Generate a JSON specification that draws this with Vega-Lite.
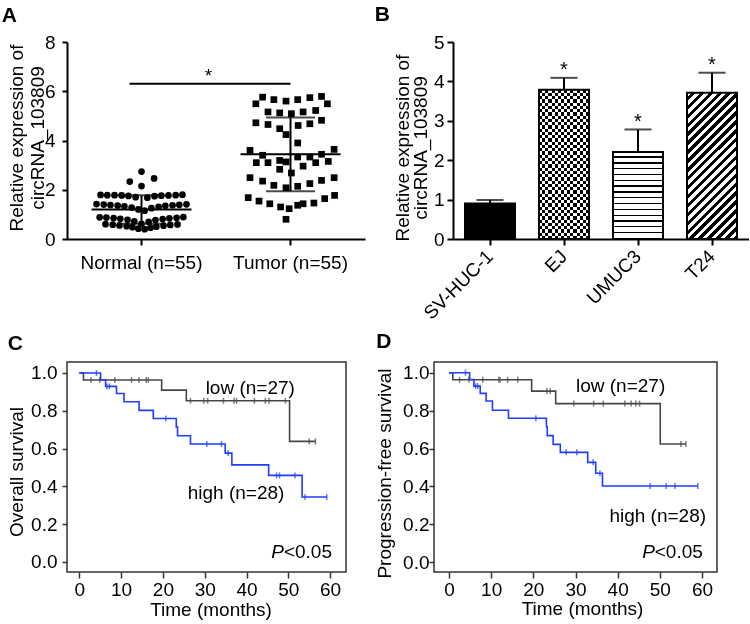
{
  "$schema": "https://vega.github.io/schema/vega-lite/v6.json",
  "background": "white",
  "padding": {"left": 1, "top": 4, "right": 0, "bottom": 0},
  "config": {
    "font": "Liberation Sans",
    "view": {"stroke": null},
    "axis": {"labelFont": "Liberation Sans", "titleFont": "Liberation Sans", "labelFontSize": 19, "titleFontSize": 19, "labelColor": "black", "titleColor": "black", "titleFontWeight": "normal", "domainColor": "black", "tickColor": "black", "domainWidth": 2, "tickWidth": 2, "grid": false},
    "title": {"font": "Liberation Sans", "fontSize": 21, "fontWeight": "bold", "anchor": "start", "frame": "bounds", "baseline": "alphabetic", "color": "black"},
    "text": {"font": "Liberation Sans", "fontSize": 19, "color": "black"}
  },
  "datasets": {
    "pts": [
      {"grp": "Normal (n=55)", "value": 2.74, "jitter": 0},
      {"grp": "Normal (n=55)", "value": 2.33, "jitter": -0.26},
      {"grp": "Normal (n=55)", "value": 2.46, "jitter": 0.28},
      {"grp": "Normal (n=55)", "value": 2.15, "jitter": 0},
      {"grp": "Normal (n=55)", "value": 1.79, "jitter": -0.91},
      {"grp": "Normal (n=55)", "value": 1.78, "jitter": -0.76},
      {"grp": "Normal (n=55)", "value": 1.78, "jitter": -0.6},
      {"grp": "Normal (n=55)", "value": 1.77, "jitter": -0.44},
      {"grp": "Normal (n=55)", "value": 1.75, "jitter": -0.29},
      {"grp": "Normal (n=55)", "value": 1.70, "jitter": -0.13},
      {"grp": "Normal (n=55)", "value": 1.68, "jitter": 0.13},
      {"grp": "Normal (n=55)", "value": 1.74, "jitter": 0.29},
      {"grp": "Normal (n=55)", "value": 1.76, "jitter": 0.44},
      {"grp": "Normal (n=55)", "value": 1.77, "jitter": 0.6},
      {"grp": "Normal (n=55)", "value": 1.78, "jitter": 0.76},
      {"grp": "Normal (n=55)", "value": 1.80, "jitter": 0.91},
      {"grp": "Normal (n=55)", "value": 1.42, "jitter": -1},
      {"grp": "Normal (n=55)", "value": 1.40, "jitter": -0.84},
      {"grp": "Normal (n=55)", "value": 1.38, "jitter": -0.69},
      {"grp": "Normal (n=55)", "value": 1.36, "jitter": -0.53},
      {"grp": "Normal (n=55)", "value": 1.33, "jitter": -0.38},
      {"grp": "Normal (n=55)", "value": 1.28, "jitter": -0.22},
      {"grp": "Normal (n=55)", "value": 1.20, "jitter": -0.07},
      {"grp": "Normal (n=55)", "value": 1.15, "jitter": 0.07},
      {"grp": "Normal (n=55)", "value": 1.25, "jitter": 0.22},
      {"grp": "Normal (n=55)", "value": 1.31, "jitter": 0.38},
      {"grp": "Normal (n=55)", "value": 1.35, "jitter": 0.53},
      {"grp": "Normal (n=55)", "value": 1.37, "jitter": 0.69},
      {"grp": "Normal (n=55)", "value": 1.39, "jitter": 0.84},
      {"grp": "Normal (n=55)", "value": 1.41, "jitter": 1},
      {"grp": "Normal (n=55)", "value": 0.88, "jitter": -0.93},
      {"grp": "Normal (n=55)", "value": 0.87, "jitter": -0.78},
      {"grp": "Normal (n=55)", "value": 0.85, "jitter": -0.62},
      {"grp": "Normal (n=55)", "value": 0.82, "jitter": -0.47},
      {"grp": "Normal (n=55)", "value": 0.78, "jitter": -0.31},
      {"grp": "Normal (n=55)", "value": 0.72, "jitter": -0.16},
      {"grp": "Normal (n=55)", "value": 0.62, "jitter": 0},
      {"grp": "Normal (n=55)", "value": 0.70, "jitter": 0.16},
      {"grp": "Normal (n=55)", "value": 0.77, "jitter": 0.31},
      {"grp": "Normal (n=55)", "value": 0.81, "jitter": 0.47},
      {"grp": "Normal (n=55)", "value": 0.84, "jitter": 0.62},
      {"grp": "Normal (n=55)", "value": 0.86, "jitter": 0.78},
      {"grp": "Normal (n=55)", "value": 0.89, "jitter": 0.93},
      {"grp": "Normal (n=55)", "value": 0.60, "jitter": -0.8},
      {"grp": "Normal (n=55)", "value": 0.58, "jitter": -0.64},
      {"grp": "Normal (n=55)", "value": 0.55, "jitter": -0.49},
      {"grp": "Normal (n=55)", "value": 0.52, "jitter": -0.33},
      {"grp": "Normal (n=55)", "value": 0.48, "jitter": -0.2},
      {"grp": "Normal (n=55)", "value": 0.42, "jitter": -0.07},
      {"grp": "Normal (n=55)", "value": 0.40, "jitter": 0.07},
      {"grp": "Normal (n=55)", "value": 0.46, "jitter": 0.2},
      {"grp": "Normal (n=55)", "value": 0.50, "jitter": 0.33},
      {"grp": "Normal (n=55)", "value": 0.54, "jitter": 0.49},
      {"grp": "Normal (n=55)", "value": 0.57, "jitter": 0.64},
      {"grp": "Normal (n=55)", "value": 0.59, "jitter": 0.8},
      {"grp": "Tumor (n=55)", "value": 5.49, "jitter": -0.77},
      {"grp": "Tumor (n=55)", "value": 5.76, "jitter": -0.62},
      {"grp": "Tumor (n=55)", "value": 5.66, "jitter": -0.37},
      {"grp": "Tumor (n=55)", "value": 5.60, "jitter": -0.10},
      {"grp": "Tumor (n=55)", "value": 5.66, "jitter": 0.16},
      {"grp": "Tumor (n=55)", "value": 5.74, "jitter": 0.43},
      {"grp": "Tumor (n=55)", "value": 5.79, "jitter": 0.69},
      {"grp": "Tumor (n=55)", "value": 5.49, "jitter": 0.82},
      {"grp": "Tumor (n=55)", "value": 5.16, "jitter": -0.50},
      {"grp": "Tumor (n=55)", "value": 5.12, "jitter": -0.24},
      {"grp": "Tumor (n=55)", "value": 5.09, "jitter": 0.02},
      {"grp": "Tumor (n=55)", "value": 5.16, "jitter": 0.28},
      {"grp": "Tumor (n=55)", "value": 5.22, "jitter": 0.56},
      {"grp": "Tumor (n=55)", "value": 4.72, "jitter": -0.77},
      {"grp": "Tumor (n=55)", "value": 4.65, "jitter": -0.50},
      {"grp": "Tumor (n=55)", "value": 4.48, "jitter": -0.24},
      {"grp": "Tumor (n=55)", "value": 4.61, "jitter": 0.17},
      {"grp": "Tumor (n=55)", "value": 4.68, "jitter": 0.43},
      {"grp": "Tumor (n=55)", "value": 4.82, "jitter": 0.69},
      {"grp": "Tumor (n=55)", "value": 4.24, "jitter": -0.10},
      {"grp": "Tumor (n=55)", "value": 3.90, "jitter": 0.16},
      {"grp": "Tumor (n=55)", "value": 3.60, "jitter": -0.90},
      {"grp": "Tumor (n=55)", "value": 3.40, "jitter": -0.62},
      {"grp": "Tumor (n=55)", "value": 3.10, "jitter": -0.76},
      {"grp": "Tumor (n=55)", "value": 3.10, "jitter": -0.50},
      {"grp": "Tumor (n=55)", "value": 3.19, "jitter": -0.24},
      {"grp": "Tumor (n=55)", "value": 3.13, "jitter": -0.10},
      {"grp": "Tumor (n=55)", "value": 3.33, "jitter": 0.16},
      {"grp": "Tumor (n=55)", "value": 3.33, "jitter": 0.43},
      {"grp": "Tumor (n=55)", "value": 3.44, "jitter": 0.69},
      {"grp": "Tumor (n=55)", "value": 3.64, "jitter": 0.97},
      {"grp": "Tumor (n=55)", "value": 3.15, "jitter": 0.84},
      {"grp": "Tumor (n=55)", "value": 3.10, "jitter": 0.56},
      {"grp": "Tumor (n=55)", "value": 2.96, "jitter": 0.28},
      {"grp": "Tumor (n=55)", "value": 2.68, "jitter": 0.02},
      {"grp": "Tumor (n=55)", "value": 2.83, "jitter": -0.24},
      {"grp": "Tumor (n=55)", "value": 2.49, "jitter": -0.90},
      {"grp": "Tumor (n=55)", "value": 2.35, "jitter": -0.62},
      {"grp": "Tumor (n=55)", "value": 2.18, "jitter": -0.37},
      {"grp": "Tumor (n=55)", "value": 2.08, "jitter": -0.10},
      {"grp": "Tumor (n=55)", "value": 2.14, "jitter": 0.16},
      {"grp": "Tumor (n=55)", "value": 2.25, "jitter": 0.43},
      {"grp": "Tumor (n=55)", "value": 2.38, "jitter": 0.69},
      {"grp": "Tumor (n=55)", "value": 2.49, "jitter": 0.97},
      {"grp": "Tumor (n=55)", "value": 1.68, "jitter": -0.94},
      {"grp": "Tumor (n=55)", "value": 1.54, "jitter": -0.70},
      {"grp": "Tumor (n=55)", "value": 1.43, "jitter": -0.46},
      {"grp": "Tumor (n=55)", "value": 1.30, "jitter": -0.22},
      {"grp": "Tumor (n=55)", "value": 1.23, "jitter": -0.03},
      {"grp": "Tumor (n=55)", "value": 1.37, "jitter": 0.16},
      {"grp": "Tumor (n=55)", "value": 1.43, "jitter": 0.28},
      {"grp": "Tumor (n=55)", "value": 1.46, "jitter": 0.52},
      {"grp": "Tumor (n=55)", "value": 1.64, "jitter": 0.76},
      {"grp": "Tumor (n=55)", "value": 1.77, "jitter": 0.98},
      {"grp": "Tumor (n=55)", "value": 0.80, "jitter": -0.10}
    ],
    "sigA": [{"from": "Normal (n=55)", "to": "Tumor (n=55)", "y": 6.3, "label": "*"}],
    "bars": [
      {"cell": "SV-HUC-1", "value": 0.90, "upper": 0.99, "sig": ""},
      {"cell": "EJ", "value": 3.79, "upper": 4.09, "sig": "*"},
      {"cell": "UMUC3", "value": 2.21, "upper": 2.78, "sig": "*"},
      {"cell": "T24", "value": 3.71, "upper": 4.22, "sig": "*"}
    ],
    "km": [
      {"panel": "C", "grp": "low", "t": 0, "s": 1, "cens": 0},
      {"panel": "C", "grp": "low", "t": 1.0, "s": 0.963, "cens": 0},
      {"panel": "C", "grp": "low", "t": 2.8, "s": 0.963, "cens": 1},
      {"panel": "C", "grp": "low", "t": 4.9, "s": 0.963, "cens": 1},
      {"panel": "C", "grp": "low", "t": 8.5, "s": 0.963, "cens": 1},
      {"panel": "C", "grp": "low", "t": 12.5, "s": 0.963, "cens": 1},
      {"panel": "C", "grp": "low", "t": 14.3, "s": 0.963, "cens": 1},
      {"panel": "C", "grp": "low", "t": 16.0, "s": 0.963, "cens": 1},
      {"panel": "C", "grp": "low", "t": 16.5, "s": 0.963, "cens": 1},
      {"panel": "C", "grp": "low", "t": 19.7, "s": 0.909, "cens": 0},
      {"panel": "C", "grp": "low", "t": 25.6, "s": 0.853, "cens": 0},
      {"panel": "C", "grp": "low", "t": 26.6, "s": 0.853, "cens": 1},
      {"panel": "C", "grp": "low", "t": 29.8, "s": 0.853, "cens": 1},
      {"panel": "C", "grp": "low", "t": 30.7, "s": 0.853, "cens": 1},
      {"panel": "C", "grp": "low", "t": 34.5, "s": 0.853, "cens": 1},
      {"panel": "C", "grp": "low", "t": 37.0, "s": 0.853, "cens": 1},
      {"panel": "C", "grp": "low", "t": 37.6, "s": 0.853, "cens": 1},
      {"panel": "C", "grp": "low", "t": 41.9, "s": 0.853, "cens": 1},
      {"panel": "C", "grp": "low", "t": 44.5, "s": 0.853, "cens": 1},
      {"panel": "C", "grp": "low", "t": 45.4, "s": 0.853, "cens": 1},
      {"panel": "C", "grp": "low", "t": 49.3, "s": 0.853, "cens": 1},
      {"panel": "C", "grp": "low", "t": 50.3, "s": 0.638, "cens": 0},
      {"panel": "C", "grp": "low", "t": 55.0, "s": 0.638, "cens": 1},
      {"panel": "C", "grp": "low", "t": 56.5, "s": 0.638, "cens": 1},
      {"panel": "C", "grp": "high", "t": 0, "s": 1, "cens": 0},
      {"panel": "C", "grp": "high", "t": 4.1, "s": 1, "cens": 1},
      {"panel": "C", "grp": "high", "t": 5.1, "s": 0.964, "cens": 0},
      {"panel": "C", "grp": "high", "t": 6.3, "s": 0.929, "cens": 0},
      {"panel": "C", "grp": "high", "t": 6.6, "s": 0.929, "cens": 1},
      {"panel": "C", "grp": "high", "t": 7.2, "s": 0.929, "cens": 1},
      {"panel": "C", "grp": "high", "t": 8.9, "s": 0.891, "cens": 0},
      {"panel": "C", "grp": "high", "t": 10.7, "s": 0.848, "cens": 0},
      {"panel": "C", "grp": "high", "t": 14.3, "s": 0.802, "cens": 0},
      {"panel": "C", "grp": "high", "t": 17.7, "s": 0.759, "cens": 0},
      {"panel": "C", "grp": "high", "t": 20.7, "s": 0.759, "cens": 1},
      {"panel": "C", "grp": "high", "t": 23.2, "s": 0.715, "cens": 0},
      {"panel": "C", "grp": "high", "t": 23.5, "s": 0.668, "cens": 0},
      {"panel": "C", "grp": "high", "t": 26.6, "s": 0.624, "cens": 0},
      {"panel": "C", "grp": "high", "t": 30.5, "s": 0.624, "cens": 1},
      {"panel": "C", "grp": "high", "t": 34.0, "s": 0.624, "cens": 1},
      {"panel": "C", "grp": "high", "t": 34.9, "s": 0.576, "cens": 0},
      {"panel": "C", "grp": "high", "t": 35.6, "s": 0.576, "cens": 1},
      {"panel": "C", "grp": "high", "t": 36.5, "s": 0.514, "cens": 0},
      {"panel": "C", "grp": "high", "t": 45.3, "s": 0.458, "cens": 0},
      {"panel": "C", "grp": "high", "t": 47.2, "s": 0.458, "cens": 1},
      {"panel": "C", "grp": "high", "t": 47.9, "s": 0.458, "cens": 1},
      {"panel": "C", "grp": "high", "t": 51.6, "s": 0.458, "cens": 1},
      {"panel": "C", "grp": "high", "t": 53.3, "s": 0.344, "cens": 0},
      {"panel": "C", "grp": "high", "t": 54.0, "s": 0.344, "cens": 1},
      {"panel": "C", "grp": "high", "t": 59.2, "s": 0.344, "cens": 1},
      {"panel": "D", "grp": "low", "t": 0, "s": 1, "cens": 0},
      {"panel": "D", "grp": "low", "t": 0.9, "s": 0.963, "cens": 0},
      {"panel": "D", "grp": "low", "t": 2.5, "s": 0.963, "cens": 1},
      {"panel": "D", "grp": "low", "t": 4.7, "s": 0.963, "cens": 1},
      {"panel": "D", "grp": "low", "t": 8.0, "s": 0.963, "cens": 1},
      {"panel": "D", "grp": "low", "t": 11.8, "s": 0.963, "cens": 1},
      {"panel": "D", "grp": "low", "t": 12.1, "s": 0.963, "cens": 1},
      {"panel": "D", "grp": "low", "t": 13.9, "s": 0.963, "cens": 1},
      {"panel": "D", "grp": "low", "t": 16.3, "s": 0.963, "cens": 1},
      {"panel": "D", "grp": "low", "t": 19.6, "s": 0.903, "cens": 0},
      {"panel": "D", "grp": "low", "t": 23.2, "s": 0.903, "cens": 1},
      {"panel": "D", "grp": "low", "t": 24.0, "s": 0.903, "cens": 1},
      {"panel": "D", "grp": "low", "t": 25.3, "s": 0.837, "cens": 0},
      {"panel": "D", "grp": "low", "t": 29.6, "s": 0.837, "cens": 1},
      {"panel": "D", "grp": "low", "t": 34.3, "s": 0.837, "cens": 1},
      {"panel": "D", "grp": "low", "t": 36.6, "s": 0.837, "cens": 1},
      {"panel": "D", "grp": "low", "t": 41.7, "s": 0.837, "cens": 1},
      {"panel": "D", "grp": "low", "t": 43.2, "s": 0.837, "cens": 1},
      {"panel": "D", "grp": "low", "t": 44.3, "s": 0.837, "cens": 1},
      {"panel": "D", "grp": "low", "t": 45.2, "s": 0.837, "cens": 1},
      {"panel": "D", "grp": "low", "t": 50.1, "s": 0.624, "cens": 0},
      {"panel": "D", "grp": "low", "t": 55.0, "s": 0.624, "cens": 1},
      {"panel": "D", "grp": "low", "t": 56.2, "s": 0.624, "cens": 1},
      {"panel": "D", "grp": "high", "t": 0, "s": 1, "cens": 0},
      {"panel": "D", "grp": "high", "t": 3.9, "s": 1, "cens": 1},
      {"panel": "D", "grp": "high", "t": 4.9, "s": 0.964, "cens": 0},
      {"panel": "D", "grp": "high", "t": 5.9, "s": 0.929, "cens": 0},
      {"panel": "D", "grp": "high", "t": 6.3, "s": 0.929, "cens": 1},
      {"panel": "D", "grp": "high", "t": 6.8, "s": 0.929, "cens": 1},
      {"panel": "D", "grp": "high", "t": 7.4, "s": 0.891, "cens": 0},
      {"panel": "D", "grp": "high", "t": 8.8, "s": 0.851, "cens": 0},
      {"panel": "D", "grp": "high", "t": 10.3, "s": 0.802, "cens": 0},
      {"panel": "D", "grp": "high", "t": 14.1, "s": 0.760, "cens": 0},
      {"panel": "D", "grp": "high", "t": 20.6, "s": 0.760, "cens": 1},
      {"panel": "D", "grp": "high", "t": 23.1, "s": 0.715, "cens": 0},
      {"panel": "D", "grp": "high", "t": 23.3, "s": 0.668, "cens": 0},
      {"panel": "D", "grp": "high", "t": 24.7, "s": 0.622, "cens": 0},
      {"panel": "D", "grp": "high", "t": 26.4, "s": 0.580, "cens": 0},
      {"panel": "D", "grp": "high", "t": 27.8, "s": 0.580, "cens": 1},
      {"panel": "D", "grp": "high", "t": 30.3, "s": 0.580, "cens": 1},
      {"panel": "D", "grp": "high", "t": 32.9, "s": 0.527, "cens": 0},
      {"panel": "D", "grp": "high", "t": 34.2, "s": 0.527, "cens": 1},
      {"panel": "D", "grp": "high", "t": 34.8, "s": 0.470, "cens": 0},
      {"panel": "D", "grp": "high", "t": 35.8, "s": 0.470, "cens": 1},
      {"panel": "D", "grp": "high", "t": 36.4, "s": 0.402, "cens": 0},
      {"panel": "D", "grp": "high", "t": 47.7, "s": 0.402, "cens": 1},
      {"panel": "D", "grp": "high", "t": 51.5, "s": 0.402, "cens": 1},
      {"panel": "D", "grp": "high", "t": 53.6, "s": 0.402, "cens": 1},
      {"panel": "D", "grp": "high", "t": 59.0, "s": 0.402, "cens": 1}
    ],
    "notes": [
      {"panel": "C", "t": 40.9, "s": 0.891, "label": "low (n=27)"},
      {"panel": "C", "t": 37.5, "s": 0.332, "label": "high (n=28)"},
      {"panel": "D", "t": 40.7, "s": 0.898, "label": "low (n=27)"},
      {"panel": "D", "t": 49.5, "s": 0.2125, "label": "high (n=28)"}
    ],
    "pvals": [
      {"panel": "C", "t": 60.45, "s": 0.023, "p": "P", "rest": "<0.05"},
      {"panel": "D", "t": 60.2, "s": 0.025, "p": "P", "rest": "<0.05"}
    ]
  },
  "bounds": "flush",
  "spacing": 320,
  "vconcat": [
    {
      "bounds": "flush",
      "spacing": 88,
      "hconcat": [
        {
          "width": 298,
          "height": 197,
          "title": {"text": "A", "offset": 7, "dx": -6},
          "data": {"name": "pts"},
          "layer": [
            {
              "mark": {"type": "point", "filled": true, "opacity": 1, "size": 45, "color": "black"},
              "encoding": {
                "x": {"field": "grp", "type": "nominal", "scale": {"type": "band", "domain": ["Normal (n=55)", "Tumor (n=55)"], "paddingInner": 0, "paddingOuter": 0},
                  "axis": {"title": null, "labelAngle": 0, "labelAlign": "center", "labelBaseline": "alphabetic", "labelPadding": 23.5, "tickSize": 6}},
                "xOffset": {"field": "jitter", "type": "quantitative", "scale": {"domain": [-1.656, 1.656]}},
                "y": {"field": "value", "type": "quantitative", "scale": {"domain": [0, 8], "nice": false},
                  "axis": {"values": [0, 2, 4, 6, 8], "tickSize": 5, "labelPadding": 7, "title": ["Relative expression of", "circRNA_103809"], "titleX": -44.3, "titleY": 95.5, "titleAngle": -90, "titleAlign": "center", "titleBaseline": "alphabetic", "titleLineHeight": 21}},
                "shape": {"field": "grp", "type": "nominal", "scale": {"domain": ["Normal (n=55)", "Tumor (n=55)"], "range": ["circle", "square"]}, "legend": null}
              }
            },
            {
              "mark": {"type": "errorbar", "extent": "stdev", "ticks": {"size": 49}, "thickness": 2, "color": "black"},
              "encoding": {
                "x": {"field": "grp", "type": "nominal"},
                "y": {"field": "value", "type": "quantitative", "title": ["Relative expression of", "circRNA_103809"]}
              }
            },
            {
              "mark": {"type": "tick", "size": 100, "thickness": 2, "color": "black"},
              "encoding": {
                "x": {"field": "grp", "type": "nominal"},
                "y": {"field": "value", "aggregate": "mean", "type": "quantitative", "title": ["Relative expression of", "circRNA_103809"]}
              }
            },
            {
              "data": {"name": "sigA"},
              "mark": {"type": "rule", "strokeWidth": 2, "color": "black", "xOffset": -12},
              "encoding": {
                "x": {"field": "from", "type": "nominal"},
                "x2": {"field": "to"},
                "y": {"field": "y", "type": "quantitative", "title": ["Relative expression of", "circRNA_103809"]}
              }
            },
            {
              "data": {"name": "sigA"},
              "mark": {"type": "text", "fontSize": 19, "dx": 67, "dy": -2, "baseline": "alphabetic", "align": "center"},
              "encoding": {
                "x": {"field": "from", "type": "nominal"},
                "y": {"field": "y", "type": "quantitative", "title": ["Relative expression of", "circRNA_103809"]},
                "text": {"field": "label"}
              }
            }
          ]
        },
        {
          "width": 296,
          "height": 197,
          "title": {"text": "B", "offset": 8, "dx": -19},
          "data": {"name": "bars"},
          "encoding": {
            "x": {"field": "cell", "type": "nominal", "scale": {"type": "band", "domain": ["SV-HUC-1", "EJ", "UMUC3", "T24"], "paddingInner": 0.324, "paddingOuter": 0.162},
              "axis": {"title": null, "labelAngle": -45, "labelAlign": "right", "labelBaseline": "middle", "labelPadding": 8, "tickSize": 6}},
            "y": {"field": "value", "type": "quantitative", "scale": {"domain": [0, 5], "nice": false},
              "axis": {"values": [0, 1, 2, 3, 4, 5], "tickSize": 6, "labelPadding": 3, "title": ["Relative expression of", "circRNA_103809"], "titleX": -44.3, "titleY": 105.5, "titleAngle": -90, "titleAlign": "center", "titleBaseline": "alphabetic", "titleLineHeight": 18.3}}
          },
          "layer": [
            {
              "transform": [{"filter": "datum.cell === 'SV-HUC-1'"}],
              "mark": {"type": "bar", "fill": "black", "strokeWidth": 0, "width": 50}
            },
            {
              "transform": [{"filter": "datum.cell === 'EJ'"}],
              "mark": {"type": "bar", "strokeWidth": 0, "width": 50, "fill": {"gradient": "linear", "x1": 0, "y1": 0, "x2": 1, "y2": 0, "stops": [
                {"offset": 0, "color": "black"}, {"offset": 0.0625, "color": "black"}, {"offset": 0.0625, "color": "white"}, {"offset": 0.125, "color": "white"},
                {"offset": 0.125, "color": "black"}, {"offset": 0.1875, "color": "black"}, {"offset": 0.1875, "color": "white"}, {"offset": 0.25, "color": "white"},
                {"offset": 0.25, "color": "black"}, {"offset": 0.3125, "color": "black"}, {"offset": 0.3125, "color": "white"}, {"offset": 0.375, "color": "white"},
                {"offset": 0.375, "color": "black"}, {"offset": 0.4375, "color": "black"}, {"offset": 0.4375, "color": "white"}, {"offset": 0.5, "color": "white"},
                {"offset": 0.5, "color": "black"}, {"offset": 0.5625, "color": "black"}, {"offset": 0.5625, "color": "white"}, {"offset": 0.625, "color": "white"},
                {"offset": 0.625, "color": "black"}, {"offset": 0.6875, "color": "black"}, {"offset": 0.6875, "color": "white"}, {"offset": 0.75, "color": "white"},
                {"offset": 0.75, "color": "black"}, {"offset": 0.8125, "color": "black"}, {"offset": 0.8125, "color": "white"}, {"offset": 0.875, "color": "white"},
                {"offset": 0.875, "color": "black"}, {"offset": 0.9375, "color": "black"}, {"offset": 0.9375, "color": "white"}, {"offset": 1, "color": "white"}
              ]}}
            },
            {
              "transform": [{"filter": "datum.cell === 'EJ'"}],
              "mark": {"type": "bar", "strokeWidth": 0, "width": 50, "blend": "difference", "fill": {"gradient": "linear", "x1": 0, "y1": 0, "x2": 0, "y2": 1, "stops": [
                {"offset": 0, "color": "black"}, {"offset": 0.02174, "color": "black"}, {"offset": 0.02174, "color": "white"}, {"offset": 0.04348, "color": "white"},
                {"offset": 0.04348, "color": "black"}, {"offset": 0.06522, "color": "black"}, {"offset": 0.06522, "color": "white"}, {"offset": 0.08696, "color": "white"},
                {"offset": 0.08696, "color": "black"}, {"offset": 0.1087, "color": "black"}, {"offset": 0.1087, "color": "white"}, {"offset": 0.13043, "color": "white"},
                {"offset": 0.13043, "color": "black"}, {"offset": 0.15217, "color": "black"}, {"offset": 0.15217, "color": "white"}, {"offset": 0.17391, "color": "white"},
                {"offset": 0.17391, "color": "black"}, {"offset": 0.19565, "color": "black"}, {"offset": 0.19565, "color": "white"}, {"offset": 0.21739, "color": "white"},
                {"offset": 0.21739, "color": "black"}, {"offset": 0.23913, "color": "black"}, {"offset": 0.23913, "color": "white"}, {"offset": 0.26087, "color": "white"},
                {"offset": 0.26087, "color": "black"}, {"offset": 0.28261, "color": "black"}, {"offset": 0.28261, "color": "white"}, {"offset": 0.30435, "color": "white"},
                {"offset": 0.30435, "color": "black"}, {"offset": 0.32609, "color": "black"}, {"offset": 0.32609, "color": "white"}, {"offset": 0.34783, "color": "white"},
                {"offset": 0.34783, "color": "black"}, {"offset": 0.36957, "color": "black"}, {"offset": 0.36957, "color": "white"}, {"offset": 0.3913, "color": "white"},
                {"offset": 0.3913, "color": "black"}, {"offset": 0.41304, "color": "black"}, {"offset": 0.41304, "color": "white"}, {"offset": 0.43478, "color": "white"},
                {"offset": 0.43478, "color": "black"}, {"offset": 0.45652, "color": "black"}, {"offset": 0.45652, "color": "white"}, {"offset": 0.47826, "color": "white"},
                {"offset": 0.47826, "color": "black"}, {"offset": 0.5, "color": "black"}, {"offset": 0.5, "color": "white"}, {"offset": 0.52174, "color": "white"},
                {"offset": 0.52174, "color": "black"}, {"offset": 0.54348, "color": "black"}, {"offset": 0.54348, "color": "white"}, {"offset": 0.56522, "color": "white"},
                {"offset": 0.56522, "color": "black"}, {"offset": 0.58696, "color": "black"}, {"offset": 0.58696, "color": "white"}, {"offset": 0.6087, "color": "white"},
                {"offset": 0.6087, "color": "black"}, {"offset": 0.63043, "color": "black"}, {"offset": 0.63043, "color": "white"}, {"offset": 0.65217, "color": "white"},
                {"offset": 0.65217, "color": "black"}, {"offset": 0.67391, "color": "black"}, {"offset": 0.67391, "color": "white"}, {"offset": 0.69565, "color": "white"},
                {"offset": 0.69565, "color": "black"}, {"offset": 0.71739, "color": "black"}, {"offset": 0.71739, "color": "white"}, {"offset": 0.73913, "color": "white"},
                {"offset": 0.73913, "color": "black"}, {"offset": 0.76087, "color": "black"}, {"offset": 0.76087, "color": "white"}, {"offset": 0.78261, "color": "white"},
                {"offset": 0.78261, "color": "black"}, {"offset": 0.80435, "color": "black"}, {"offset": 0.80435, "color": "white"}, {"offset": 0.82609, "color": "white"},
                {"offset": 0.82609, "color": "black"}, {"offset": 0.84783, "color": "black"}, {"offset": 0.84783, "color": "white"}, {"offset": 0.86957, "color": "white"},
                {"offset": 0.86957, "color": "black"}, {"offset": 0.8913, "color": "black"}, {"offset": 0.8913, "color": "white"}, {"offset": 0.91304, "color": "white"},
                {"offset": 0.91304, "color": "black"}, {"offset": 0.93478, "color": "black"}, {"offset": 0.93478, "color": "white"}, {"offset": 0.95652, "color": "white"},
                {"offset": 0.95652, "color": "black"}, {"offset": 0.97826, "color": "black"}, {"offset": 0.97826, "color": "white"}, {"offset": 1, "color": "white"}
              ]}}
            },
            {
              "transform": [{"filter": "datum.cell === 'UMUC3'"}],
              "mark": {"type": "bar", "strokeWidth": 0, "width": 50, "fill": {"gradient": "linear", "x1": 0, "y1": 0, "x2": 0, "y2": 1, "stops": [
                {"offset": 0, "color": "white"}, {"offset": 0.052, "color": "white"}, {"offset": 0.052, "color": "black"}, {"offset": 0.06667, "color": "black"},
                {"offset": 0.06667, "color": "white"}, {"offset": 0.11867, "color": "white"}, {"offset": 0.11867, "color": "black"}, {"offset": 0.13333, "color": "black"},
                {"offset": 0.13333, "color": "white"}, {"offset": 0.18533, "color": "white"}, {"offset": 0.18533, "color": "black"}, {"offset": 0.2, "color": "black"},
                {"offset": 0.2, "color": "white"}, {"offset": 0.252, "color": "white"}, {"offset": 0.252, "color": "black"}, {"offset": 0.26667, "color": "black"},
                {"offset": 0.26667, "color": "white"}, {"offset": 0.31867, "color": "white"}, {"offset": 0.31867, "color": "black"}, {"offset": 0.33333, "color": "black"},
                {"offset": 0.33333, "color": "white"}, {"offset": 0.38533, "color": "white"}, {"offset": 0.38533, "color": "black"}, {"offset": 0.4, "color": "black"},
                {"offset": 0.4, "color": "white"}, {"offset": 0.452, "color": "white"}, {"offset": 0.452, "color": "black"}, {"offset": 0.46667, "color": "black"},
                {"offset": 0.46667, "color": "white"}, {"offset": 0.51867, "color": "white"}, {"offset": 0.51867, "color": "black"}, {"offset": 0.53333, "color": "black"},
                {"offset": 0.53333, "color": "white"}, {"offset": 0.58533, "color": "white"}, {"offset": 0.58533, "color": "black"}, {"offset": 0.6, "color": "black"},
                {"offset": 0.6, "color": "white"}, {"offset": 0.652, "color": "white"}, {"offset": 0.652, "color": "black"}, {"offset": 0.66667, "color": "black"},
                {"offset": 0.66667, "color": "white"}, {"offset": 0.71867, "color": "white"}, {"offset": 0.71867, "color": "black"}, {"offset": 0.73333, "color": "black"},
                {"offset": 0.73333, "color": "white"}, {"offset": 0.78533, "color": "white"}, {"offset": 0.78533, "color": "black"}, {"offset": 0.8, "color": "black"},
                {"offset": 0.8, "color": "white"}, {"offset": 0.852, "color": "white"}, {"offset": 0.852, "color": "black"}, {"offset": 0.86667, "color": "black"},
                {"offset": 0.86667, "color": "white"}, {"offset": 0.91867, "color": "white"}, {"offset": 0.91867, "color": "black"}, {"offset": 0.93333, "color": "black"},
                {"offset": 0.93333, "color": "white"}, {"offset": 0.98533, "color": "white"}, {"offset": 0.98533, "color": "black"}, {"offset": 1, "color": "black"}
              ]}}
            },
            {
              "transform": [{"filter": "datum.cell === 'T24'"}],
              "mark": {"type": "bar", "strokeWidth": 0, "width": 50, "fill": {"gradient": "linear", "x1": 0, "y1": 0, "x2": 0.4109, "y2": 1.2015, "stops": [
                {"offset": 0, "color": "white"}, {"offset": 0.022727, "color": "white"}, {"offset": 0.022727, "color": "black"}, {"offset": 0.045455, "color": "black"},
                {"offset": 0.045455, "color": "white"}, {"offset": 0.068182, "color": "white"}, {"offset": 0.068182, "color": "black"}, {"offset": 0.090909, "color": "black"},
                {"offset": 0.090909, "color": "white"}, {"offset": 0.113636, "color": "white"}, {"offset": 0.113636, "color": "black"}, {"offset": 0.136364, "color": "black"},
                {"offset": 0.136364, "color": "white"}, {"offset": 0.159091, "color": "white"}, {"offset": 0.159091, "color": "black"}, {"offset": 0.181818, "color": "black"},
                {"offset": 0.181818, "color": "white"}, {"offset": 0.204545, "color": "white"}, {"offset": 0.204545, "color": "black"}, {"offset": 0.227273, "color": "black"},
                {"offset": 0.227273, "color": "white"}, {"offset": 0.25, "color": "white"}, {"offset": 0.25, "color": "black"}, {"offset": 0.272727, "color": "black"},
                {"offset": 0.272727, "color": "white"}, {"offset": 0.295455, "color": "white"}, {"offset": 0.295455, "color": "black"}, {"offset": 0.318182, "color": "black"},
                {"offset": 0.318182, "color": "white"}, {"offset": 0.340909, "color": "white"}, {"offset": 0.340909, "color": "black"}, {"offset": 0.363636, "color": "black"},
                {"offset": 0.363636, "color": "white"}, {"offset": 0.386364, "color": "white"}, {"offset": 0.386364, "color": "black"}, {"offset": 0.409091, "color": "black"},
                {"offset": 0.409091, "color": "white"}, {"offset": 0.431818, "color": "white"}, {"offset": 0.431818, "color": "black"}, {"offset": 0.454545, "color": "black"},
                {"offset": 0.454545, "color": "white"}, {"offset": 0.477273, "color": "white"}, {"offset": 0.477273, "color": "black"}, {"offset": 0.5, "color": "black"},
                {"offset": 0.5, "color": "white"}, {"offset": 0.522727, "color": "white"}, {"offset": 0.522727, "color": "black"}, {"offset": 0.545455, "color": "black"},
                {"offset": 0.545455, "color": "white"}, {"offset": 0.568182, "color": "white"}, {"offset": 0.568182, "color": "black"}, {"offset": 0.590909, "color": "black"},
                {"offset": 0.590909, "color": "white"}, {"offset": 0.613636, "color": "white"}, {"offset": 0.613636, "color": "black"}, {"offset": 0.636364, "color": "black"},
                {"offset": 0.636364, "color": "white"}, {"offset": 0.659091, "color": "white"}, {"offset": 0.659091, "color": "black"}, {"offset": 0.681818, "color": "black"},
                {"offset": 0.681818, "color": "white"}, {"offset": 0.704545, "color": "white"}, {"offset": 0.704545, "color": "black"}, {"offset": 0.727273, "color": "black"},
                {"offset": 0.727273, "color": "white"}, {"offset": 0.75, "color": "white"}, {"offset": 0.75, "color": "black"}, {"offset": 0.772727, "color": "black"},
                {"offset": 0.772727, "color": "white"}, {"offset": 0.795455, "color": "white"}, {"offset": 0.795455, "color": "black"}, {"offset": 0.818182, "color": "black"},
                {"offset": 0.818182, "color": "white"}, {"offset": 0.840909, "color": "white"}, {"offset": 0.840909, "color": "black"}, {"offset": 0.863636, "color": "black"},
                {"offset": 0.863636, "color": "white"}, {"offset": 0.886364, "color": "white"}, {"offset": 0.886364, "color": "black"}, {"offset": 0.909091, "color": "black"},
                {"offset": 0.909091, "color": "white"}, {"offset": 0.931818, "color": "white"}, {"offset": 0.931818, "color": "black"}, {"offset": 0.954545, "color": "black"},
                {"offset": 0.954545, "color": "white"}, {"offset": 0.977273, "color": "white"}, {"offset": 0.977273, "color": "black"}, {"offset": 1, "color": "black"}
              ]}}
            },
            {
              "mark": {"type": "bar", "fillOpacity": 0, "stroke": "black", "strokeWidth": 2, "width": 50}
            },
            {
              "mark": {"type": "rule", "strokeWidth": 2, "color": "black"},
              "encoding": {"y2": {"field": "upper"}}
            },
            {
              "mark": {"type": "tick", "size": 27, "thickness": 2, "color": "black"},
              "encoding": {"y": {"field": "upper", "type": "quantitative", "title": ["Relative expression of", "circRNA_103809"]}}
            },
            {
              "transform": [{"filter": "datum.sig !== ''"}],
              "mark": {"type": "text", "fontSize": 20, "baseline": "alphabetic", "align": "center", "dy": -1.5},
              "encoding": {"y": {"field": "upper", "type": "quantitative", "title": ["Relative expression of", "circRNA_103809"]}, "text": {"field": "sig"}}
            }
          ]
        }
      ]
    },
    {
      "bounds": "flush",
      "spacing": 88,
      "hconcat": [
        {
          "width": 279,
          "height": 210,
          "title": {"text": "C", "offset": 8, "dx": 0},
          "view": {"stroke": "#333333", "strokeWidth": 1.5},
          "layer": [
            {
              "data": {"name": "km"},
              "transform": [{"filter": "datum.panel === 'C'"}],
              "mark": {"type": "line", "interpolate": "step-after", "strokeWidth": 1.6},
              "encoding": {
                "x": {"field": "t", "type": "quantitative", "scale": {"domain": [-2.94, 63.8], "nice": false, "zero": false},
                  "axis": {"values": [0, 10, 20, 30, 40, 50, 60], "domain": false, "tickSize": 6, "tickWidth": 1.5, "tickColor": "#333333", "labelBaseline": "alphabetic", "labelPadding": 17.8, "labelAngle": 0, "title": "Time (months)", "titleX": 143.5, "titleY": 43.4, "titleAlign": "center", "titleBaseline": "alphabetic", "titleAnchor": null}},
                "y": {"field": "s", "type": "quantitative", "scale": {"domain": [-0.053, 1.058], "nice": false, "zero": false},
                  "axis": {"values": [0, 0.2, 0.4, 0.6, 0.8, 1.0], "format": ".1f", "domain": false, "tickSize": 5, "tickWidth": 1.5, "tickColor": "#333333", "labelPadding": 5, "title": "Overall survival", "titleX": -44.3, "titleY": 109.5, "titleAngle": -90, "titleAlign": "center", "titleBaseline": "alphabetic"}},
                "color": {"field": "grp", "type": "nominal", "scale": {"domain": ["low", "high"], "range": ["#474747", "#1f3dff"]}, "legend": null}
              }
            },
            {
              "data": {"name": "km"},
              "transform": [{"filter": "datum.panel === 'C' && datum.cens === 1"}],
              "mark": {"type": "tick", "orient": "vertical", "size": 6, "thickness": 1.5},
              "encoding": {
                "x": {"field": "t", "type": "quantitative"},
                "y": {"field": "s", "type": "quantitative"},
                "color": {"field": "grp", "type": "nominal", "legend": null}
              }
            },
            {
              "data": {"name": "notes"},
              "transform": [{"filter": "datum.panel === 'C'"}],
              "mark": {"type": "text", "fontSize": 19, "align": "center", "baseline": "alphabetic", "color": "black"},
              "encoding": {"x": {"field": "t", "type": "quantitative"}, "y": {"field": "s", "type": "quantitative"}, "text": {"field": "label"}}
            },
            {
              "data": {"name": "pvals"},
              "transform": [{"filter": "datum.panel === 'C'"}],
              "mark": {"type": "text", "fontSize": 19, "align": "right", "baseline": "alphabetic", "color": "black"},
              "encoding": {"x": {"field": "t", "type": "quantitative"}, "y": {"field": "s", "type": "quantitative"}, "text": {"field": "rest"}}
            },
            {
              "data": {"name": "pvals"},
              "transform": [{"filter": "datum.panel === 'C'"}],
              "mark": {"type": "text", "fontSize": 19, "align": "right", "baseline": "alphabetic", "fontStyle": "italic", "dx": -48, "color": "black"},
              "encoding": {"x": {"field": "t", "type": "quantitative"}, "y": {"field": "s", "type": "quantitative"}, "text": {"field": "p"}}
            }
          ]
        },
        {
          "width": 283,
          "height": 210,
          "title": {"text": "D", "offset": 10, "dx": 1},
          "view": {"stroke": "#333333", "strokeWidth": 1.5},
          "layer": [
            {
              "data": {"name": "km"},
              "transform": [{"filter": "datum.panel === 'D'"}],
              "mark": {"type": "line", "interpolate": "step-after", "strokeWidth": 1.6},
              "encoding": {
                "x": {"field": "t", "type": "quantitative", "scale": {"domain": [-3.56, 63.56], "nice": false, "zero": false},
                  "axis": {"values": [0, 10, 20, 30, 40, 50, 60], "domain": false, "tickSize": 6, "tickWidth": 1.5, "tickColor": "#333333", "labelBaseline": "alphabetic", "labelPadding": 17.3, "labelAngle": 0, "title": "Time (months)", "titleX": 148, "titleY": 42.3, "titleAlign": "center", "titleBaseline": "alphabetic", "titleAnchor": null}},
                "y": {"field": "s", "type": "quantitative", "scale": {"domain": [-0.0512, 1.0564], "nice": false, "zero": false},
                  "axis": {"values": [0, 0.2, 0.4, 0.6, 0.8, 1.0], "format": ".1f", "domain": false, "tickSize": 5, "tickWidth": 1.5, "tickColor": "#333333", "labelPadding": 0, "title": "Progression-free survival", "titleX": -43.7, "titleY": 111, "titleAngle": -90, "titleAlign": "center", "titleBaseline": "alphabetic"}},
                "color": {"field": "grp", "type": "nominal", "scale": {"domain": ["low", "high"], "range": ["#474747", "#1f3dff"]}, "legend": null}
              }
            },
            {
              "data": {"name": "km"},
              "transform": [{"filter": "datum.panel === 'D' && datum.cens === 1"}],
              "mark": {"type": "tick", "orient": "vertical", "size": 6, "thickness": 1.5},
              "encoding": {
                "x": {"field": "t", "type": "quantitative"},
                "y": {"field": "s", "type": "quantitative"},
                "color": {"field": "grp", "type": "nominal", "legend": null}
              }
            },
            {
              "data": {"name": "notes"},
              "transform": [{"filter": "datum.panel === 'D'"}],
              "mark": {"type": "text", "fontSize": 19, "align": "center", "baseline": "alphabetic", "color": "black"},
              "encoding": {"x": {"field": "t", "type": "quantitative"}, "y": {"field": "s", "type": "quantitative"}, "text": {"field": "label"}}
            },
            {
              "data": {"name": "pvals"},
              "transform": [{"filter": "datum.panel === 'D'"}],
              "mark": {"type": "text", "fontSize": 19, "align": "right", "baseline": "alphabetic", "color": "black"},
              "encoding": {"x": {"field": "t", "type": "quantitative"}, "y": {"field": "s", "type": "quantitative"}, "text": {"field": "rest"}}
            },
            {
              "data": {"name": "pvals"},
              "transform": [{"filter": "datum.panel === 'D'"}],
              "mark": {"type": "text", "fontSize": 19, "align": "right", "baseline": "alphabetic", "fontStyle": "italic", "dx": -48, "color": "black"},
              "encoding": {"x": {"field": "t", "type": "quantitative"}, "y": {"field": "s", "type": "quantitative"}, "text": {"field": "p"}}
            }
          ]
        }
      ]
    }
  ]
}
